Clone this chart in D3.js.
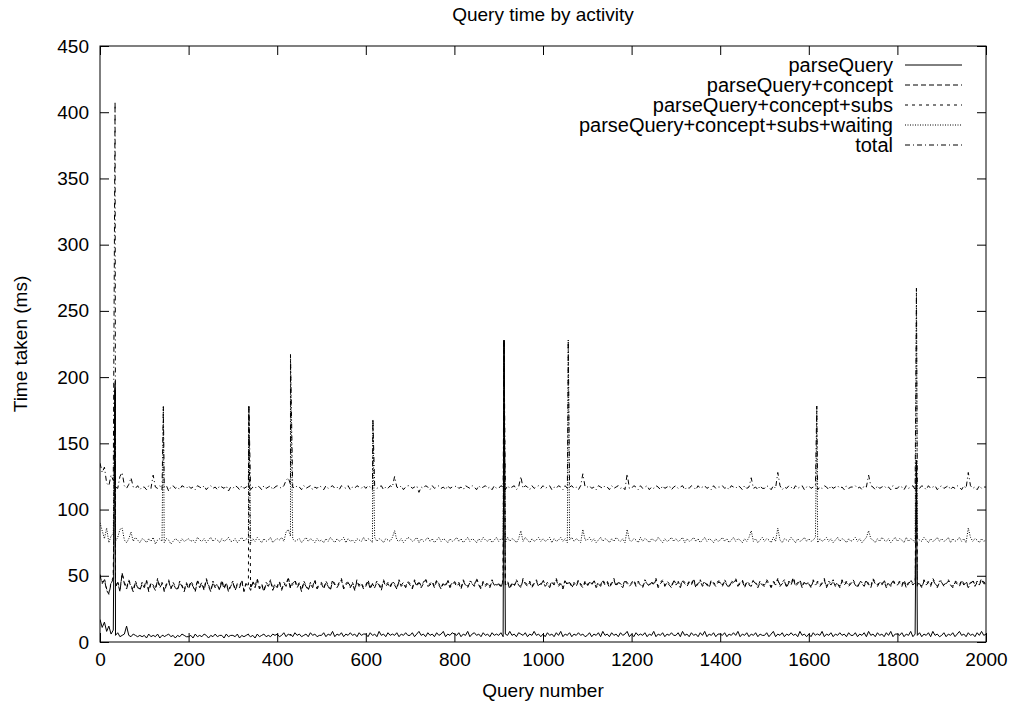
<!DOCTYPE html>
<html>
<head>
<meta charset="utf-8">
<script src="https://cdn.jsdelivr.net/npm/d3@7"></script>
<style>
  html, body { margin: 0; padding: 0; background: #fff; }
  svg { display: block; }
  text { font-family: "Liberation Sans", Arial, Helvetica, sans-serif; fill: #000; }
</style>
</head>
<body>
<svg id="chart" width="1019" height="709"></svg>
<script>
// ---------------- DATA ----------------
const chartTitle = "Query time by activity";
const xLabel = "Query number";
const yLabel = "Time taken (ms)";
const seriesNames = ["parseQuery", "parseQuery+concept", "parseQuery+concept+subs", "parseQuery+concept+subs+waiting", "total"];
const xTicks = [0, 200, 400, 600, 800, 1000, 1200, 1400, 1600, 1800, 2000];
const yTicks = [0, 50, 100, 150, 200, 250, 300, 350, 400, 450];

// sampled every 5 queries (0..2000)
const baseQueries = d3.range(0, 2001, 5);

const parseQuery = [
  17,11,15,8,12,6,9,5,7,4,5,6,12,5,4,6,5,4,5,4,
  5,3,6,4,5,4,6,3,5,4,5,6,4,5,3,5,4,6,5,4,
  4,5,3,6,4,5,4,6,5,3,5,4,6,4,5,5,3,6,4,5,
  5,4,6,3,5,4,5,6,4,5,3,6,4,5,6,4,5,4,6,5,
  6,4,5,7,4,6,5,4,7,5,6,4,5,6,4,7,5,6,4,5,
  5,7,4,6,5,8,4,6,5,7,4,6,5,7,5,6,4,7,5,6,
  6,4,7,5,6,4,8,5,6,4,7,5,6,5,7,4,6,5,7,5,
  5,7,4,6,8,5,6,4,7,5,6,4,7,5,6,8,4,6,5,7,
  6,5,7,4,6,5,8,4,6,7,5,6,4,7,5,6,4,7,5,6,
  5,7,4,6,5,8,5,6,4,7,6,5,7,4,6,5,8,5,6,4,
  6,4,7,5,6,4,7,5,8,4,6,5,7,4,6,5,7,5,6,4,
  5,7,4,6,5,7,4,8,5,6,4,7,5,6,4,7,5,6,8,4,
  6,4,7,5,6,5,7,4,6,5,8,4,6,5,7,4,6,5,7,5,
  5,7,4,8,5,6,4,7,5,6,4,7,5,8,4,6,5,7,4,6,
  6,5,7,4,6,5,7,5,8,4,6,5,7,4,6,5,7,4,6,5,
  5,7,4,6,8,4,6,5,7,4,6,5,7,5,6,4,8,5,6,4,
  6,4,7,5,6,5,8,4,6,5,7,4,6,5,7,5,6,4,7,5,
  5,7,4,6,5,7,4,8,5,6,4,7,5,6,4,7,5,8,4,6,
  6,5,7,4,6,5,8,4,6,5,7,4,6,5,7,4,8,5,6,4,
  5,7,4,6,5,7,4,6,8,5,6,4,7,5,6,4,7,5,8,5,
  6
];
const parseQueryConcept = [
  50,44,47,39,36,44,48,41,45,38,52,44,40,46,42,38,45,41,39,44,
  41,46,38,44,42,39,47,41,44,38,43,46,40,44,41,39,45,42,38,44,
  40,45,42,38,46,41,44,39,47,42,38,45,41,43,39,46,40,44,38,42,
  45,39,43,41,46,38,44,42,39,45,41,47,40,43,38,44,42,46,39,43,
  41,45,39,44,42,48,40,43,46,41,44,38,45,42,39,44,41,46,40,43,
  44,40,45,42,39,46,43,41,44,47,40,43,45,41,44,39,46,42,44,40,
  42,46,40,44,41,45,43,39,46,42,44,41,45,43,40,46,42,44,41,45,
  43,40,46,42,45,41,44,47,42,43,45,41,46,43,40,44,42,46,41,44,
  45,42,44,40,46,43,41,45,44,42,47,43,40,45,42,44,41,46,43,42,
  44,41,46,43,45,40,44,42,46,43,41,47,44,42,45,41,44,46,42,43,
  46,42,44,41,45,43,47,42,44,40,46,43,45,41,44,42,46,43,41,45,
  42,45,43,46,41,44,42,46,43,45,41,44,47,42,45,43,41,46,44,42,
  44,46,42,45,43,41,46,44,42,45,43,47,41,44,46,42,45,43,41,46,
  43,45,41,46,44,42,45,43,47,41,44,46,42,45,43,41,46,44,42,45,
  45,42,46,43,41,45,44,47,42,44,46,41,45,43,42,46,44,41,45,43,
  42,46,44,41,45,43,47,42,44,46,41,45,43,48,42,44,46,41,45,43,
  44,41,46,43,45,42,44,47,41,45,43,46,42,44,41,46,43,45,42,44,
  46,43,41,45,44,42,46,43,41,47,44,42,45,43,46,41,44,42,46,43,
  43,45,42,46,41,44,46,43,45,42,44,41,46,43,45,42,47,44,41,45,
  45,42,44,46,43,41,45,44,42,46,43,45,41,44,46,42,45,43,47,44,
  44
];
const parseQueryConceptSubs = [
  51,45,48,40,37,45,49,42,46,39,52,45,41,47,43,39,46,42,40,45,
  42,47,39,45,43,40,48,42,45,39,44,47,41,45,42,40,46,43,39,45,
  41,46,43,39,47,42,45,40,48,43,39,46,42,44,40,47,41,45,39,43,
  46,40,44,42,47,39,45,43,40,46,42,48,41,44,39,45,43,47,40,44,
  42,46,40,45,43,49,41,44,47,42,45,39,46,43,40,45,42,47,41,44,
  45,41,46,43,40,47,44,42,45,48,41,44,46,42,45,40,47,43,45,41,
  43,47,41,45,42,46,44,40,47,43,45,42,46,44,41,47,43,45,42,46,
  44,41,47,43,46,42,45,48,43,44,46,42,47,44,41,45,43,47,42,45,
  46,43,45,41,47,44,42,46,45,43,48,44,41,46,43,45,42,47,44,43,
  45,42,47,44,46,41,45,43,47,44,42,48,45,43,46,42,45,47,43,44,
  47,43,45,42,46,44,48,43,45,41,47,44,46,42,45,43,47,44,42,46,
  43,46,44,47,42,45,43,47,44,46,42,45,48,43,46,44,42,47,45,43,
  45,47,43,46,44,42,47,45,43,46,44,48,42,45,47,43,46,44,42,47,
  44,46,42,47,45,43,46,44,48,42,45,47,43,46,44,42,47,45,43,46,
  46,43,47,44,42,46,45,48,43,45,47,42,46,44,43,47,45,42,46,44,
  43,47,45,42,46,44,48,43,45,47,42,46,44,49,43,45,47,42,46,44,
  45,42,47,44,46,43,45,48,42,46,44,47,43,45,42,47,44,46,43,45,
  47,44,42,46,45,43,47,44,42,48,45,43,46,44,47,42,45,43,47,44,
  44,46,43,47,42,45,47,44,46,43,45,42,47,44,46,43,48,45,42,46,
  46,43,45,47,44,42,46,45,43,47,44,46,42,45,47,43,46,44,48,45,
  45
];
const parseQueryConceptSubsWaiting = [
  90,84,78,86,75,80,82,76,79,85,86,77,75,78,83,76,79,77,75,78,
  77,75,78,76,79,74,77,78,76,75,78,77,74,76,78,77,75,78,76,77,
  78,76,77,75,79,77,76,78,75,77,79,76,78,77,75,78,76,77,79,76,
  76,78,75,77,79,76,78,77,75,78,76,79,77,75,78,76,77,79,75,77,
  78,77,79,76,83,85,80,78,76,77,78,75,77,79,76,78,77,75,78,76,
  77,75,78,76,79,77,75,78,76,77,79,75,78,76,77,75,78,77,76,79,
  76,78,77,75,79,76,78,77,75,78,77,76,79,84,77,76,78,75,77,79,
  78,76,77,79,75,78,76,77,79,76,78,75,77,79,76,78,77,75,78,76,
  77,79,76,78,75,77,79,76,78,77,75,78,76,79,77,76,78,75,77,79,
  76,78,77,75,79,76,78,77,75,78,84,76,79,77,75,78,76,77,79,76,
  78,76,77,79,75,78,76,77,79,76,78,75,77,79,76,78,77,75,85,77,
  77,79,76,78,75,77,79,76,78,77,75,78,76,79,77,76,78,75,85,77,
  76,78,77,75,79,76,78,77,75,78,77,76,79,77,75,78,76,77,79,76,
  78,76,77,79,75,78,76,77,79,76,78,75,77,79,76,78,77,75,78,76,
  77,79,76,78,75,77,79,76,78,77,75,78,76,79,84,76,78,75,77,79,
  76,78,77,75,79,76,86,77,75,78,77,76,79,77,75,78,76,77,79,76,
  78,76,77,79,75,78,76,77,79,76,78,75,77,79,76,78,77,75,78,76,
  77,79,76,78,75,77,79,84,78,77,75,78,76,79,77,76,78,75,77,79,
  76,78,77,75,79,76,78,77,75,78,77,76,79,77,75,78,76,77,79,76,
  78,76,77,79,75,78,76,77,79,76,78,75,86,79,76,78,77,75,78,76,
  77
];
const total = [
  135,128,132,120,118,126,122,117,116,125,128,118,116,119,124,117,116,118,115,117,
  117,115,118,116,126,117,116,118,115,117,118,114,117,118,116,117,115,118,117,116,
  118,116,117,115,118,117,116,118,115,117,118,116,117,115,118,117,116,118,114,117,
  116,118,117,115,118,116,117,118,115,117,116,118,117,115,118,116,117,118,115,117,
  118,117,116,118,122,124,119,117,116,118,117,115,118,116,117,118,115,117,116,118,
  117,115,118,116,117,118,116,117,115,118,117,116,118,115,117,116,118,117,116,118,
  116,118,117,115,118,116,117,118,115,117,116,118,117,125,117,116,118,115,117,118,
  118,116,117,118,113,117,116,118,117,115,118,116,117,118,116,117,115,118,116,117,
  117,118,116,117,115,118,117,116,118,117,115,118,116,117,118,116,117,115,118,116,
  116,118,117,115,118,116,117,118,115,117,125,116,118,117,115,118,116,117,118,116,
  118,116,117,118,115,117,116,118,117,115,118,116,117,118,116,117,115,118,127,117,
  117,118,116,117,115,118,117,116,118,117,115,118,116,117,118,116,117,115,127,116,
  116,118,117,115,118,116,117,118,115,117,116,118,117,115,118,116,117,118,115,117,
  118,116,117,118,115,117,116,118,117,115,118,116,117,118,116,117,115,118,116,117,
  117,118,116,117,115,118,117,116,118,117,115,118,116,117,124,116,117,115,118,116,
  116,118,117,115,118,116,128,118,115,117,116,118,117,115,118,116,117,118,115,117,
  118,116,117,118,115,117,116,118,117,115,118,116,117,118,116,117,115,118,116,117,
  117,118,116,117,115,118,117,126,118,117,115,118,116,117,118,116,117,115,118,116,
  116,118,117,115,118,116,117,118,115,117,116,118,117,115,118,116,117,118,115,117,
  118,116,117,118,115,117,116,118,117,115,118,116,128,118,116,117,115,118,116,117,
  117
];

// isolated slow queries
const spikeQueries = [34, 143, 336, 430, 616, 912, 1057, 1618, 1843];
const spikeParseQuery = [190, 5, 5, 6, 5, 228, 6, 6, 137];
const spikeConcept = [193, 42, 42, 43, 42, 228, 44, 44, 137];
const spikeSubs = [195, 43, 178, 44, 43, 228, 45, 45, 137];
const spikeWaiting = [197, 178, 178, 217, 168, 228, 228, 178, 267];
const spikeTotal = [408, 178, 178, 217, 168, 228, 228, 178, 267];

const dashPatterns = [null, "5,3", "3,4", "1,1.5", "5,3,1,3"];

// ---------------- CHART ----------------
const svg = d3.select("#chart");
const X0 = 100, X1 = 986, Y0 = 46, Y1 = 642;
const x = d3.scaleLinear().domain([0, 2000]).range([X0, X1]);
const y = d3.scaleLinear().domain([0, 450]).range([Y1, Y0]);
const FS = 19;
const LFS = 20;

function buildSeries(base, spikes) {
  const pts = baseQueries.map((q, i) => ({ q: q, v: base[i] }));
  spikeQueries.forEach((q, i) => pts.push({ q: q, v: spikes[i] }));
  pts.sort((a, b) => a.q - b.q);
  return pts;
}
const series = [
  buildSeries(parseQuery, spikeParseQuery),
  buildSeries(parseQueryConcept, spikeConcept),
  buildSeries(parseQueryConceptSubs, spikeSubs),
  buildSeries(parseQueryConceptSubsWaiting, spikeWaiting),
  buildSeries(total, spikeTotal)
];

svg.append("defs").append("clipPath").attr("id", "clip")
  .append("rect").attr("x", X0).attr("y", Y0).attr("width", X1 - X0).attr("height", Y1 - Y0);

const line = d3.line().x(d => x(d.q)).y(d => y(d.v));
const g = svg.append("g").attr("clip-path", "url(#clip)");
series.forEach((s, i) => {
  g.append("path").datum(s)
    .attr("d", line)
    .attr("fill", "none")
    .attr("stroke", "#000")
    .attr("stroke-width", 1)
    .attr("stroke-dasharray", dashPatterns[i]);
});

// axes (ticks inside, mirrored)
const TK = 9;
const axB = svg.append("g").attr("transform", `translate(0,${Y1})`)
  .call(d3.axisBottom(x).tickValues(xTicks).tickFormat(d3.format("d")).tickSize(-TK).tickPadding(11));
const axT = svg.append("g").attr("transform", `translate(0,${Y0})`)
  .call(d3.axisTop(x).tickValues(xTicks).tickFormat("").tickSize(-TK));
const axL = svg.append("g").attr("transform", `translate(${X0},0)`)
  .call(d3.axisLeft(y).tickValues(yTicks).tickFormat(d3.format("d")).tickSize(-TK).tickPadding(11));
const axR = svg.append("g").attr("transform", `translate(${X1},0)`)
  .call(d3.axisRight(y).tickValues(yTicks).tickFormat("").tickSize(-TK));
[axB, axT, axL, axR].forEach(a => {
  a.select(".domain").remove();
  a.selectAll("line").attr("stroke", "#000").attr("stroke-width", 1);
  a.selectAll("text").style("font-size", FS + "px").attr("font-family", null).attr("fill", "#000");
});

svg.append("rect").attr("x", X0).attr("y", Y0).attr("width", X1 - X0).attr("height", Y1 - Y0)
  .attr("fill", "none").attr("stroke", "#000").attr("stroke-width", 1);

// titles
svg.append("text").attr("x", (X0 + X1) / 2).attr("y", 14).attr("dy", "0.35em")
  .attr("text-anchor", "middle").style("font-size", FS + "px").text(chartTitle);
svg.append("text").attr("x", (X0 + X1) / 2).attr("y", 690).attr("dy", "0.35em")
  .attr("text-anchor", "middle").style("font-size", FS + "px").text(xLabel);
svg.append("text").attr("transform", `translate(20,${(Y0 + Y1) / 2}) rotate(-90)`)
  .attr("dy", "0.35em").attr("text-anchor", "middle").style("font-size", FS + "px").text(yLabel);

// legend
const legend = svg.append("g");
seriesNames.forEach((name, i) => {
  const ly = 65 + i * 20;
  legend.append("text").attr("x", 893).attr("y", ly).attr("dy", "0.35em")
    .attr("text-anchor", "end").style("font-size", LFS + "px").text(name);
  legend.append("line").attr("x1", 905).attr("x2", 962).attr("y1", ly).attr("y2", ly)
    .attr("stroke", "#000").attr("stroke-width", 1).attr("stroke-dasharray", dashPatterns[i]);
});
</script>
</body>
</html>
